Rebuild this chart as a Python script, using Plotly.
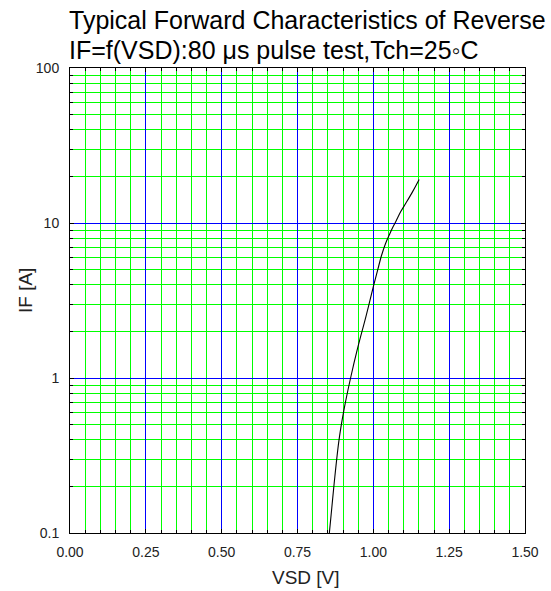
import plotly.graph_objects as go

# Curve data
vsd = [0.855, 0.863, 0.871, 0.887, 0.903, 0.925, 0.949, 0.976, 1.000, 1.014, 1.027, 1.040, 1.054, 1.065, 1.075, 1.090, 1.108, 1.130, 1.151]
i_f = [0.10, 0.145, 0.21, 0.40, 0.62, 1.00, 1.58, 2.51, 3.89, 4.95, 6.17, 7.35, 8.5, 9.45, 10.3, 11.8, 13.5, 16.0, 19.1]

x_major = [0.0, 0.25, 0.50, 0.75, 1.00, 1.25, 1.50]
x_labels = ["0.00", "0.25", "0.50", "0.75", "1.00", "1.25", "1.50"]
y_major = [0.1, 1, 10, 100]
y_labels = ["0.1", "1", "10", "100"]
x_minor = [round(i * 0.05, 2) for i in range(31)]
y_minor = [m * d for d in (0.1, 1, 10) for m in range(2, 10)]

title1 = "Typical Forward Characteristics of Reverse"
title2 = "IF=f(VSD):80 \u03bcs pulse test,Tch=25\u25e6C"
xtitle = "VSD [V]"
ytitle = "IF [A]"

FONT = "Liberation Sans, Arial, sans-serif"

fig = go.Figure()
fig.add_trace(go.Scatter(x=vsd, y=i_f, mode="lines",
                         line=dict(color="black", width=1.1, shape="spline", smoothing=1.0),
                         hoverinfo="skip", showlegend=False))

fig.update_xaxes(range=[0, 1.5], tickmode="array", tickvals=x_major, ticktext=x_labels,
                 showgrid=True, gridcolor="#0000ff", gridwidth=1,
                 ticks="inside", ticklen=4, tickcolor="black",
                 showline=True, linecolor="black", linewidth=1, mirror="ticks",
                 zeroline=False, ticklabelstandoff=6,
                 tickfont=dict(family=FONT, size=14, color="#222"),
                 minor=dict(tickmode="array", tickvals=x_minor, showgrid=True,
                            gridcolor="#00ff00", gridwidth=1, ticks="inside",
                            ticklen=3, tickcolor="black"))
fig.update_yaxes(type="log", range=[-1, 2], tickmode="array", tickvals=y_major, ticktext=y_labels,
                 showgrid=True, gridcolor="#0000ff", gridwidth=1,
                 ticks="inside", ticklen=4, tickcolor="black",
                 showline=True, linecolor="black", linewidth=1, mirror="ticks",
                 zeroline=False, ticklabelstandoff=7,
                 tickfont=dict(family=FONT, size=14, color="#222"),
                 minor=dict(tickmode="array", tickvals=y_minor, showgrid=True,
                            gridcolor="#00ff00", gridwidth=1, ticks="inside",
                            ticklen=3, tickcolor="black"))

annots = [
    dict(text=title1, x=-0.006, y=1.103, xanchor="left", yanchor="middle",
         font=dict(family=FONT, size=25, color="black")),
    dict(text=title2, x=-0.006, y=1.039, xanchor="left", yanchor="middle",
         font=dict(family=FONT, size=25, color="black")),
    dict(text=xtitle, x=(311 - 70) / 465, y=-(578 - 533.5) / 466, xanchor="center", yanchor="middle",
         font=dict(family=FONT, size=19, color="#222")),
    dict(text=ytitle, x=-(70 - 24) / 465, y=(533.5 - 290) / 466, xanchor="center", yanchor="middle",
         textangle=-90, font=dict(family=FONT, size=19, color="#222")),
]
for a in annots:
    fig.add_annotation(xref="paper", yref="paper", showarrow=False, **a)

fig.update_layout(width=551, height=591,
                  margin=dict(l=70, r=16, t=67.5, b=57.5, pad=0),
                  paper_bgcolor="white", plot_bgcolor="white",
                  font=dict(family=FONT))

fig.write_html("out.html")
